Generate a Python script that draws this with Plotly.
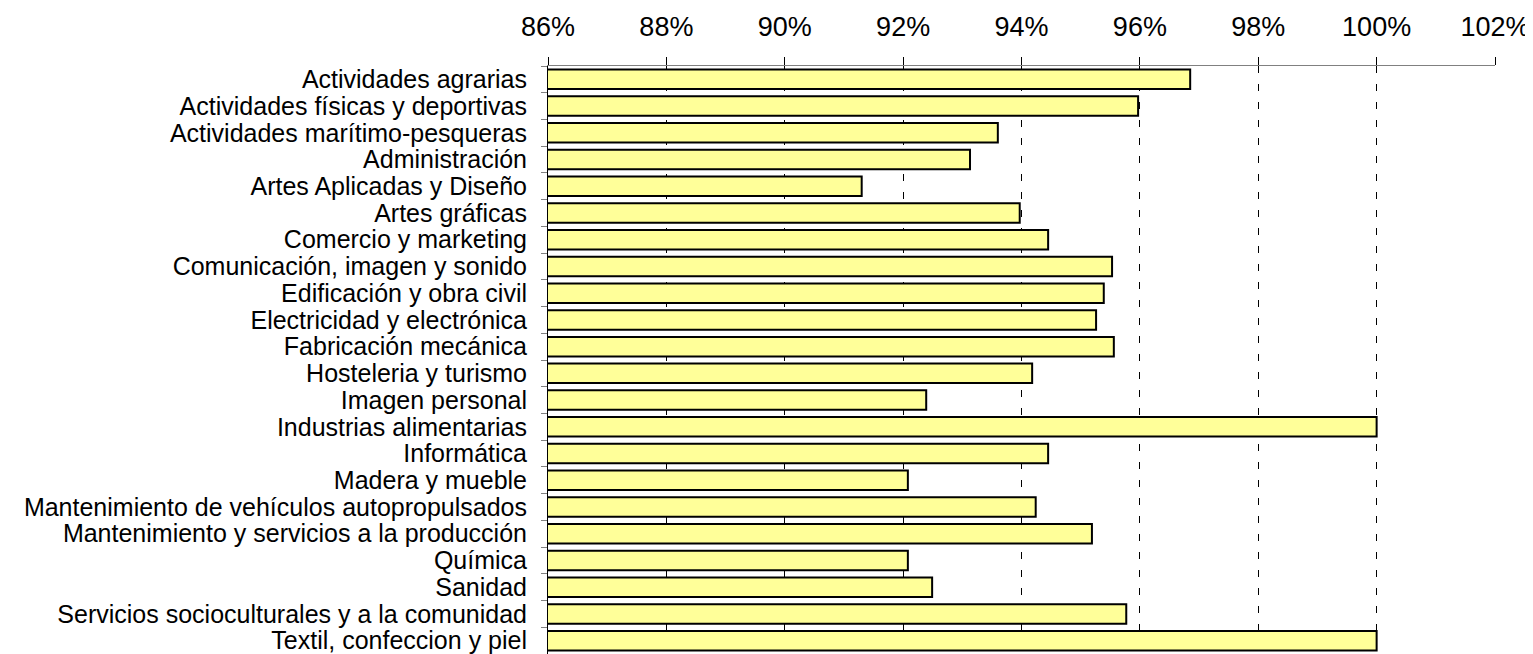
import plotly.graph_objects as go

categories = [
    "Actividades agrarias",
    "Actividades físicas y deportivas",
    "Actividades marítimo-pesqueras",
    "Administración",
    "Artes Aplicadas y Diseño",
    "Artes gráficas",
    "Comercio y marketing",
    "Comunicación, imagen y sonido",
    "Edificación y obra civil",
    "Electricidad y electrónica",
    "Fabricación mecánica",
    "Hosteleria y turismo",
    "Imagen personal",
    "Industrias alimentarias",
    "Informática",
    "Madera y mueble",
    "Mantenimiento de vehículos autopropulsados",
    "Mantenimiento y servicios a la producción",
    "Química",
    "Sanidad",
    "Servicios socioculturales y a la comunidad",
    "Textil, confeccion y piel",
]
values = [
    0.9685, 0.9597, 0.9360, 0.9313, 0.9130, 0.9397, 0.9445, 0.9553,
    0.9539, 0.9526, 0.9556, 0.9418, 0.9239, 1.0000, 0.9445, 0.9208,
    0.9424, 0.9519, 0.9208, 0.9249, 0.9577, 1.0000,
]
x_ticks = [0.86, 0.88, 0.90, 0.92, 0.94, 0.96, 0.98, 1.00, 1.02]

fig = go.Figure(
    go.Bar(
        x=values,
        y=categories,
        orientation="h",
        marker=dict(color="#FFFF99", line=dict(color="black", width=2)),
    )
)

font = dict(family="Liberation Sans, Arial, sans-serif", size=25, color="black")

fig.update_layout(
    width=1533,
    height=654,
    margin=dict(l=540, r=46, t=58, b=8, autoexpand=False),
    paper_bgcolor="white",
    plot_bgcolor="white",
    bargap=0.27,
    showlegend=False,
    font=font,
)
fig.update_xaxes(
    side="top",
    range=[0.86, 1.02],
    tickvals=x_ticks,
    tickformat=".0%",
    tickfont=dict(size=27),
    ticks="outside",
    ticklen=8,
    tickcolor="black",
    ticklabelstandoff=10,
    showgrid=True,
    gridcolor="black",
    gridwidth=1,
    griddash="7px,11px",
    showline=True,
    linecolor="#808080",
    linewidth=1,
    zeroline=False,
    automargin=False,
)
fig.update_yaxes(
    autorange="reversed",
    tickmode="array",
    tickvals=categories,
    ticktext=categories,
    tickson="boundaries",
    ticks="outside",
    ticklen=6,
    tickcolor="#808080",
    ticklabelstandoff=15,
    showline=True,
    linecolor="black",
    linewidth=1,
    showgrid=False,
    automargin=False,
    tickfont=dict(size=25),
)

fig.write_html("out.html")
